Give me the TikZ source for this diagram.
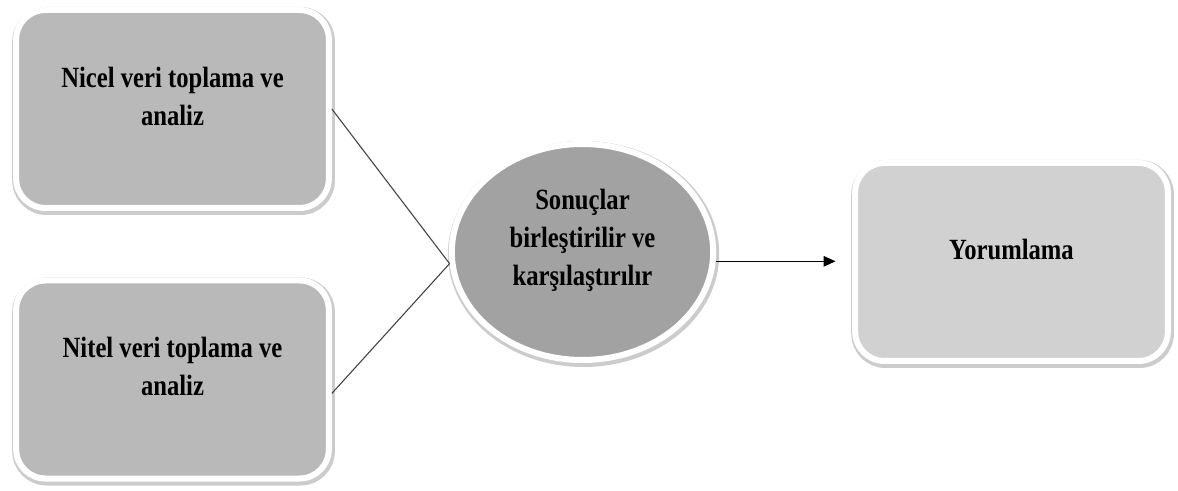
\documentclass[tikz,border=0pt]{standalone}
\usepackage{fontspec}
\setmainfont[FakeStretch=0.84]{Liberation Serif}
\usetikzlibrary{arrows.meta,shapes.geometric,shadows}
\definecolor{boxgray}{HTML}{B9B9B9}
\definecolor{lightgray}{HTML}{D1D1D1}
\definecolor{ovalgray}{HTML}{A2A2A2}
\tikzset{
  softshadow/.style={drop shadow={shadow xshift=.8pt, shadow yshift=-1.5pt, opacity=.2, fill=black, draw=black, line width=7.5pt}},
  stepbox/.style={draw=white, line width=4.5pt, rounded corners=22pt, fill=boxgray, minimum width=234.5pt, minimum height=148.5pt, softshadow},
  resultoval/.style={ellipse, draw=white, line width=4.5pt, fill=ovalgray, inner sep=0pt, minimum width=196pt, minimum height=162pt, softshadow},
  boxtext/.style={font=\fontsize{22}{28.5}\selectfont\bfseries, align=center, inner sep=0pt},
  link/.style={draw=black!75, line width=.8pt},
  arw/.style={draw=black, line width=.8pt, -{Triangle[length=9pt, width=8pt]}}
}
\begin{document}
\begin{tikzpicture}[x=0.75pt, y=-0.75pt]
  \useasboundingbox (0,0) rectangle (1178,491);

  \node[stepbox] (nicel) at (172.5,109) {};
  \node[stepbox] (nitel) at (172.5,379.5) {};
  \node[resultoval] (sonuc) at (582.5,252) {};
  \node[stepbox, fill=lightgray] (yorum) at (1011.5,262) {};

  \node[boxtext] (nicelText) at ([yshift=9.5pt]nicel.center) {Nicel veri toplama ve\\analiz};
  \node[boxtext] (nitelText) at ([yshift=9.5pt]nitel.center) {Nitel veri toplama ve\\analiz};
  \node[boxtext] (sonucText) at ([yshift=8.5pt]sonuc.center) {Sonuçlar\\birleştirilir ve\\karşılaştırılır};
  \node[boxtext] (yorumText) at ([yshift=9.5pt]yorum.center) {Yorumlama};

  \draw[link] (nicel.east) -- (sonuc.185);
  \draw[link] (nitel.-5) -- (sonuc.185);
  \draw[arw, shorten >=12.5pt] (sonuc.-4) -- (sonuc.-4 -| yorum.west);
\end{tikzpicture}
\end{document}
